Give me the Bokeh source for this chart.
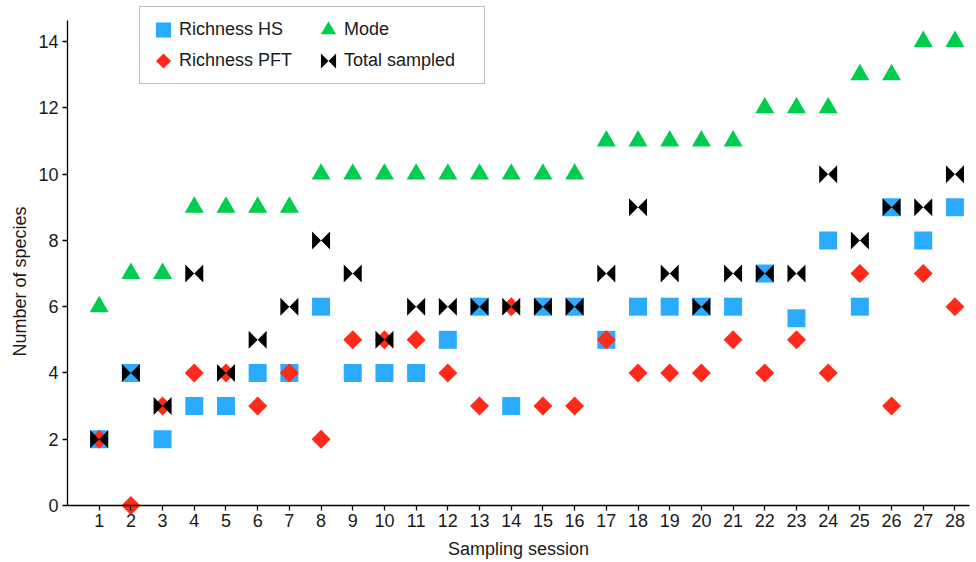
import math
from bokeh.plotting import figure
from bokeh.models import (ColumnDataSource, FixedTicker, Range1d, Legend,
                          LegendItem, CustomJS)
from bokeh.embed import file_html
from bokeh.resources import INLINE

# ---------------- data ----------------
SESSIONS = [1, 2, 3, 4, 5, 6, 7, 8, 9, 10, 11, 12, 13, 14,
            15, 16, 17, 18, 19, 20, 21, 22, 23, 24, 25, 26, 27, 28]
RICHNESS_HS = [2, 4, 2, 3, 3, 4, 4, 6, 4, 4, 4, 5, 6, 3,
               6, 6, 5, 6, 6, 6, 6, 7, 5.65, 8, 6, 9, 8, 9]
RICHNESS_PFT = [2, 0, 3, 4, 4, 3, 4, 2, 5, 5, 5, 4, 3, 6,
                3, 3, 5, 4, 4, 4, 5, 4, 5, 4, 7, 3, 7, 6]
MODE = [6, 7, 7, 9, 9, 9, 9, 10, 10, 10, 10, 10, 10, 10,
        10, 10, 11, 11, 11, 11, 11, 12, 12, 12, 13, 13, 14, 14]
TOTAL_SAMPLED = [2, 4, 3, 7, 4, 5, 6, 8, 7, 5, 6, 6, 6, 6,
                 6, 6, 7, 9, 7, 6, 7, 7, 7, 10, 8, 9, 9, 10]
Y_TICKS = [0, 2, 4, 6, 8, 10, 12, 14]
SERIES_LABELS = ["Richness HS", "Richness PFT", "Mode", "Total sampled"]
X_LABEL = "Sampling session"
Y_LABEL = "Number of species"

# ---------------- styles ----------------
BLUE = "#2AABFF"
RED = "#FF2A1A"
GREEN = "#00CC50"
BLACK = "#000000"
FONT = "Liberation Sans"
X_END = 28.68
X_AXIS_END = 28.47
Y_START, Y_END = -1.72, 15.24
Y_AXIS_END = 14.63

src = ColumnDataSource(dict(s=SESSIONS, hs=RICHNESS_HS, pft=RICHNESS_PFT,
                            mode=MODE, total=TOTAL_SAMPLED))

p = figure(width=976, height=562, output_backend="svg", toolbar_location=None,
           x_range=Range1d(0, X_END), y_range=Range1d(Y_START, Y_END),
           min_border_left=67, min_border_right=0, min_border_top=0,
           min_border_bottom=0)
p.xgrid.visible = False
p.ygrid.visible = False
p.outline_line_color = None
p.background_fill_color = "white"
p.border_fill_color = "white"

# Custom marker shapes. Legend icons are drawn with a small r (< 7 px):
# those are enlarged a little so that they match the reference legend.
HEAD = """
const {ctx, i, r, visuals} = cb_data;
const q = r < 7 ? r * 1.22 : r;
"""
TAIL = """
try { visuals.fill.apply(ctx, i); } catch (e) { ctx.fillStyle = "%s"; ctx.fill(); }
"""
SQUARE_JS = HEAD + "ctx.rect(-q, -q, 2*q, 2*q);" + TAIL % BLUE
TRIANGLE_JS = HEAD + """
const h = q * Math.sqrt(3); const a = h / 3;
ctx.moveTo(-q, a); ctx.lineTo(q, a); ctx.lineTo(0, a - h); ctx.closePath();
""" + TAIL % GREEN
DIAMOND_JS = HEAD + """
ctx.moveTo(0, -q); ctx.lineTo(q, 0); ctx.lineTo(0, q); ctx.lineTo(-q, 0); ctx.closePath();
""" + TAIL % RED
BOWTIE_JS = HEAD + """
ctx.moveTo(-q, -q); ctx.lineTo(0, 0); ctx.lineTo(-q, q); ctx.closePath();
ctx.moveTo(q, -q); ctx.lineTo(0, 0); ctx.lineTo(q, q); ctx.closePath();
""" + TAIL % BLACK

try:
    r_hs = p.scatter("s", "hs", source=src, marker="@sq", size=18,
                     fill_color=BLUE, line_color=None,
                     defs={"@sq": CustomJS(code=SQUARE_JS)})
    r_mode = p.scatter("s", "mode", source=src, marker="@tri", size=19,
                       fill_color=GREEN, line_color=None,
                       defs={"@tri": CustomJS(code=TRIANGLE_JS)})
    r_pft = p.scatter("s", "pft", source=src, marker="@diamond", size=19,
                      fill_color=RED, line_color=None,
                      defs={"@diamond": CustomJS(code=DIAMOND_JS)})
    r_total = p.scatter("s", "total", source=src, marker="@bowtie", size=18,
                        fill_color=BLACK, line_color=None,
                        defs={"@bowtie": CustomJS(code=BOWTIE_JS)})
except Exception:
    p.renderers = []
    r_hs = p.scatter("s", "hs", source=src, marker="square", size=18,
                     fill_color=BLUE, line_color=None)
    r_mode = p.scatter("s", "mode", source=src, marker="triangle", size=19,
                       fill_color=GREEN, line_color=None)
    r_pft = p.scatter("s", "pft", source=src, marker="square", size=13,
                      angle=math.pi / 4, fill_color=RED, line_color=None)
    r_total = p.scatter("s", "total", source=src, marker="square_x", size=16,
                        fill_color=BLACK, line_color=None)

# ---------------- axes ----------------
xa = p.xaxis[0]
xa.ticker = FixedTicker(ticks=SESSIONS)
xa.fixed_location = 0
xa.bounds = (0, X_AXIS_END)
ya = p.yaxis[0]
ya.ticker = FixedTicker(ticks=Y_TICKS)
ya.bounds = (0, Y_AXIS_END)
xa.axis_label = X_LABEL
ya.axis_label = Y_LABEL
for ax in (xa, ya):
    ax.axis_line_color = BLACK
    ax.axis_line_width = 1.3
    ax.major_tick_line_color = BLACK
    ax.major_tick_line_width = 1.3
    ax.major_tick_out = 5
    ax.major_tick_in = 0
    ax.minor_tick_out = 0
    ax.minor_tick_in = 0
    ax.major_label_text_font = FONT
    ax.major_label_text_font_size = "18px"
    ax.major_label_text_color = "#1a1a1a"
    ax.axis_label_text_font = FONT
    ax.axis_label_text_font_size = "18px"
    ax.axis_label_text_font_style = "normal"
    ax.axis_label_text_color = "#1a1a1a"
xa.major_label_standoff = 3
xa.axis_label_standoff = 9
ya.major_label_standoff = 4
ya.axis_label_standoff = 5

# ---------------- legend ----------------
legend = Legend(
    items=[LegendItem(label=SERIES_LABELS[0], renderers=[r_hs]),
           LegendItem(label=SERIES_LABELS[1], renderers=[r_pft]),
           LegendItem(label=SERIES_LABELS[2], renderers=[r_mode]),
           LegendItem(label=SERIES_LABELS[3], renderers=[r_total])],
    ncols=2, location=(72, 478), margin=0, padding=7, spacing=0,
    glyph_width=32, glyph_height=31, label_standoff=0, label_width=133,
    label_height=20, label_text_font=FONT, label_text_font_size="18px",
    label_text_color="#1a1a1a", border_line_color="#808080",
    border_line_width=1, background_fill_color="white",
    background_fill_alpha=1.0)
p.add_layout(legend)

open("out.html", "w").write(file_html(p, INLINE))
